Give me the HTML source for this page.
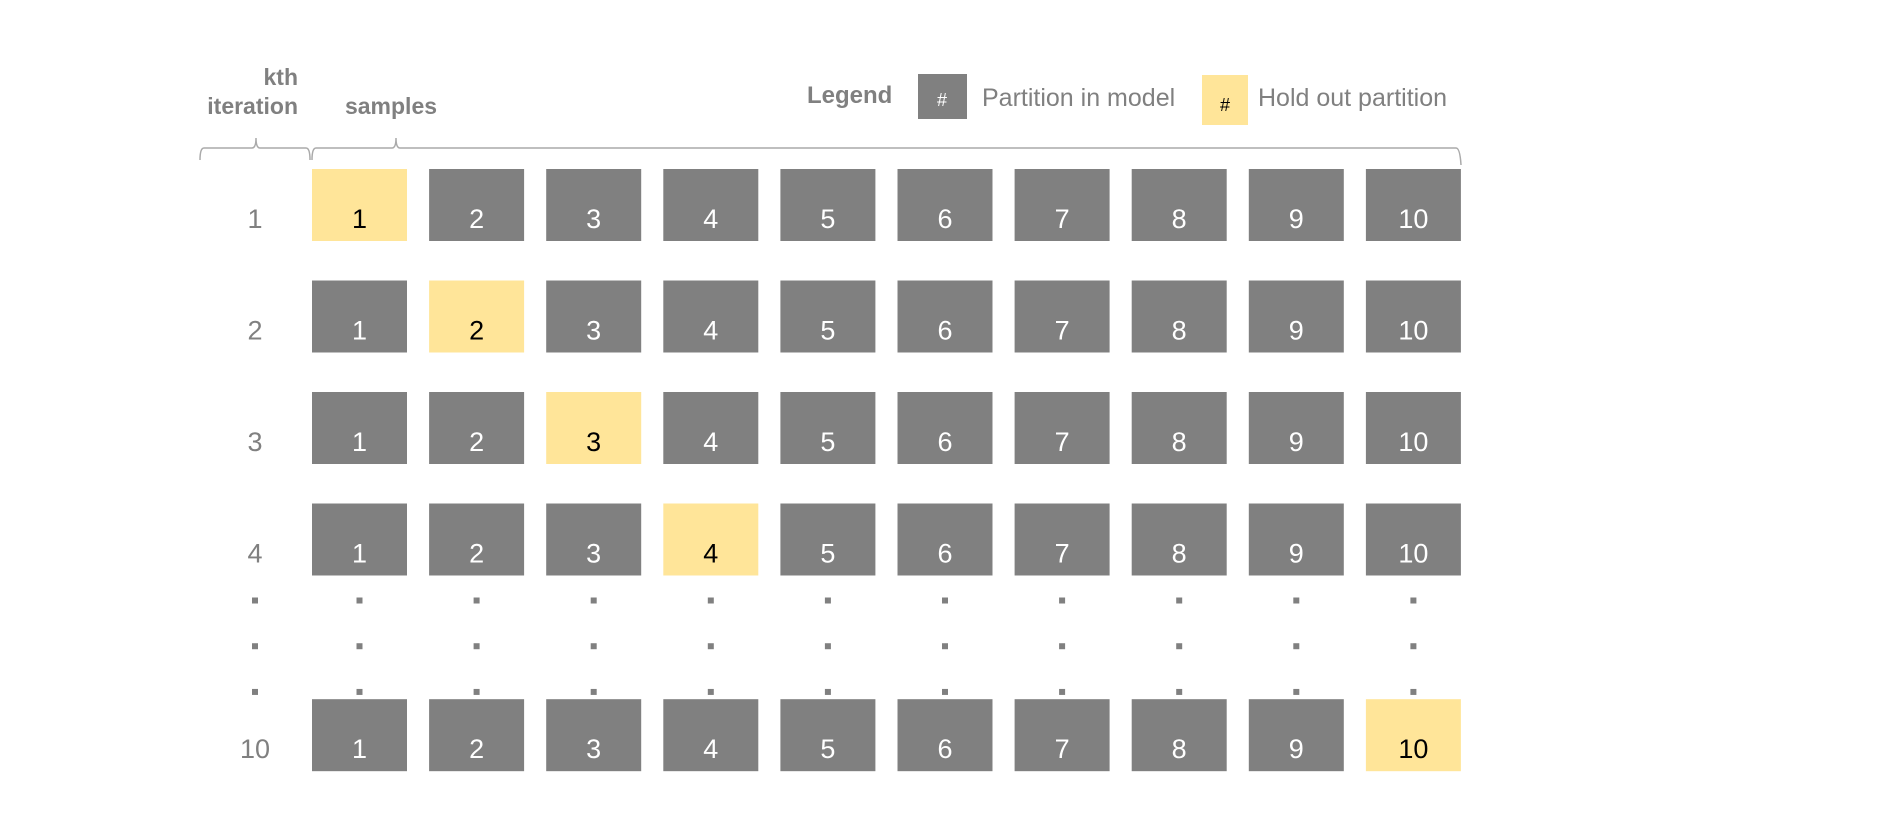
<!DOCTYPE html>
<html><head><meta charset="utf-8"><style>
body{margin:0;background:#fff}
svg{display:block;font-family:"Liberation Sans",Arial,sans-serif}
</style></head><body>
<svg id="chart" width="1890" height="814" viewBox="0 0 1890 814" xmlns="http://www.w3.org/2000/svg">
<text x="298" y="85" text-anchor="end" font-size="23" font-weight="bold" fill="#808080">kth</text>
<text x="298" y="114" text-anchor="end" font-size="23" font-weight="bold" fill="#808080">iteration</text>
<text x="391" y="114" text-anchor="middle" font-size="23" font-weight="bold" fill="#808080">samples</text>
<path d="M200,160 Q200,148 204,148 L252,148 Q256,148 256,138 Q256,148 260,148 L306,148 Q310,148 310,160" fill="none" stroke="#aaa" stroke-width="1.5"/>
<path d="M312,160 Q312,148 316,148 L392,148 Q396,148 396,138 Q396,148 400,148 L1456,148 Q1460,148 1461,165" fill="none" stroke="#aaa" stroke-width="1.5"/>
<text x="807" y="103" font-size="24" font-weight="bold" fill="#808080">Legend</text>
<g>
<rect x="918" y="74" width="49" height="45" fill="#808080"/>
<text x="942" y="106" text-anchor="middle" font-size="18" fill="#fff">#</text>
<text x="982" y="106" font-size="25" fill="#808080">Partition in model</text>
</g>
<g>
<rect x="1202" y="75" width="46" height="50" fill="#FFE599"/>
<text x="1225" y="111" text-anchor="middle" font-size="18" fill="#000">#</text>
<text x="1258" y="106" font-size="25" fill="#808080">Hold out partition</text>
</g>
<g id="grid"></g>
</svg>
<script>
const iterations = [1, 2, 3, 4, 10];
const holdout = [1, 2, 3, 4, 10];
const partitions = [1,2,3,4,5,6,7,8,9,10];
const rowSlots = [0, 1, 2, 3, 4.755];
const dotSlots = [3.87, 4.28, 4.69];
const NS = "http://www.w3.org/2000/svg";
const g = document.getElementById('grid');
const colX = p => 312 + (p - 1) * 117.1;
const rowY = s => 169 + s * 111.5;
const W = 95, H = 72;
function mk(tag, attrs){const e=document.createElementNS(NS,tag);for(const k in attrs)e.setAttribute(k,attrs[k]);return e;}
iterations.forEach((it, i) => {
  const y = rowY(rowSlots[i]);
  const lab = mk('text', {x:255, y:y+59, 'text-anchor':'middle', 'font-size':27, fill:'#808080'});
  
  
  lab.textContent = it;
  g.appendChild(lab);
  partitions.forEach(p => {
    const hold = p === holdout[i];
    const r = mk('rect', {x:colX(p), y:y, width:W, height:H, fill: hold ? '#FFE599' : '#808080'});
    
    
    g.appendChild(r);
    const t = mk('text', {x:colX(p)+W/2, y:y+59, 'text-anchor':'middle', 'font-size':27, fill: hold ? '#000' : '#fff'});
    
    
    t.textContent = p;
    g.appendChild(t);
  });
});
dotSlots.forEach(s => {
  const y = rowY(s) - 3;
  const d0 = mk('rect', {x:252, y:y, width:6, height:6, fill:'#808080'});
  
  
  g.appendChild(d0);
  partitions.forEach(p => {
    const d = mk('rect', {x:colX(p)+W/2-3, y:y, width:6, height:6, fill:'#808080'});
    
    
    g.appendChild(d);
  });
});
</script>
</body></html>
